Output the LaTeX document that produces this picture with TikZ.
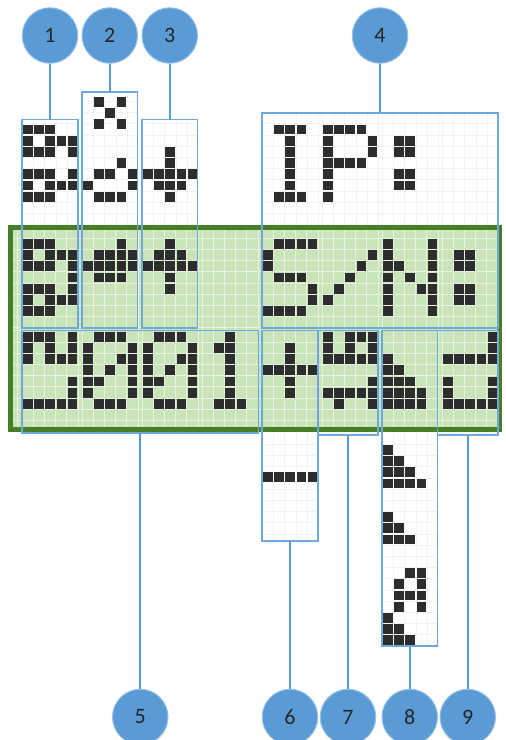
\documentclass[tikz,border=0pt]{standalone}
\usepackage{fontspec}
\newfontfamily\numfont{Carlito}
\definecolor{cblue}{RGB}{91,155,213}
\definecolor{cblueedge}{RGB}{150,192,232}
\definecolor{boxblue}{RGB}{110,168,222}
\definecolor{lcdgreen}{RGB}{200,228,184}
\definecolor{lcdborder}{RGB}{72,125,42}
\definecolor{lcdgrid}{RGB}{230,243,222}
\definecolor{dotc}{RGB}{45,45,45}
\definecolor{faint}{RGB}{243,243,243}

\newcommand\dotrow[2]{\def\dotX{#1}\expandafter\dotrowi#2\relax}
\def\dotrowi#1{\ifx#1\relax\else\if1#1\fill[dotc] (\dotX,\dotY) rectangle ++(9.8,9.8);\fi\pgfmathsetmacro\dotX{\dotX+11.1}\expandafter\dotrowi\fi}
\newcommand\glyph[3]{\foreach \gr [count=\gi from 0] in {#3} {\pgfmathsetmacro\dotY{#2+11.2*\gi}\dotrow{#1}{\gr}}}
\newcommand\lcdchar[3]{\pgfmathsetmacro\gxpos{23.2+60*#1}\glyph{\gxpos}{#2}{#3}}

\tikzset{
  boxfr/.style={draw=boxblue, line width=1.1pt, inner sep=0pt, outer sep=0pt},
  numc/.style={circle, fill=cblue, draw=cblueedge, line width=1pt, minimum size=55.5pt, inner sep=0pt, font=\numfont\fontsize{22}{22}\selectfont, text=black!85},
  conn/.style={draw=cblue, line width=1.8pt},
  lcdbox/.style={draw=lcdborder, fill=lcdgreen, line width=5pt, inner sep=0pt, outer sep=0pt},
  gridl/.style={draw=lcdgrid, line width=0.9pt},
  faintl/.style={draw=faint, line width=0.6pt}
}

\begin{document}
\begin{tikzpicture}[x=1pt,y=-1pt]
\useasboundingbox (0,0) rectangle (506,740);
\fill[white] (0,0) rectangle (506,740);

% faint grids in the white parts of the boxes
\begin{scope}
\clip (22,119.5) rectangle (78,225) (82,92) rectangle (137.5,225) (142,119.5) rectangle (197.5,225)
      (262,113) rectangle (498,225) (262,432) rectangle (318,541) (382,432) rectangle (437.5,646);
\foreach \c in {0,...,7} \foreach \k in {0,...,5} \draw[faintl] ({22.5+60*\c+11.1*\k},90) -- (22.5+60*\c+11.1*\k,650);
\foreach \r in {-4,...,9} \draw[faintl] (20,{123.7+11.2*\r}) -- (500,123.7+11.2*\r);
\foreach \r in {0,...,19} \draw[faintl] (20,{444.2+11.2*\r}) -- (500,444.2+11.2*\r);
\end{scope}

% LCD
\node[lcdbox, minimum width=489pt, minimum height=202pt] (lcd) at (255,328.5) {};
\begin{scope}
\clip (13,230) rectangle (497,427);
\foreach \c in {0,...,7} \foreach \k in {0,...,5} \draw[gridl] ({22.5+60*\c+11.1*\k},230) -- (22.5+60*\c+11.1*\k,427);
\draw[gridl] (17.5,230) -- (17.5,427);
\foreach \r in {-1,...,8} \draw[gridl] (13,{238.2+11.2*\r}) -- (497,238.2+11.2*\r);
\foreach \r in {0,...,9} \draw[gridl] (13,{330.9+11.2*\r}) -- (497,330.9+11.2*\r);
\end{scope}

% LCD row 1
\lcdchar{0}{239}{11100,10111,11101,00001,11101,10111,11100}
\lcdchar{1}{239}{00010,01111,11111,01110}
\lcdchar{2}{239}{00100,01110,11111,00100,00100}
\lcdchar{4}{239}{01111,10000,10000,01110,00001,00001,11110}
\lcdchar{5}{239}{00000,00001,00010,00100,01000,10000}
\lcdchar{6}{239}{10001,10001,11001,10101,10011,10001,10001}
\lcdchar{7}{239}{00000,01100,01100,00000,01100,01100}
% LCD row 2
\lcdchar{0}{331.7}{11101,10101,10111,00000,00001,00001,11111}
\lcdchar{1}{331.7}{01110,10001,10011,10101,11001,10001,01110}
\lcdchar{2}{331.7}{01110,10001,10011,10101,11001,10001,01110}
\lcdchar{3}{331.7}{00100,01100,00100,00100,00100,00100,01110}
\lcdchar{4}{331.7}{00000,00100,00100,11111,00100,00100}
\lcdchar{5}{331.7}{10111,10101,11111,00000,00001,11111,01001}
\lcdchar{6}{331.7}{00000,00000,10000,11000,11100,11110,11110}
\lcdchar{7}{331.7}{00001,00001,11111,00000,10001,10001,11111}

% alternative glyphs above the LCD
\lcdchar{0}{124.5}{11100,10111,11101,00000,11101,10111,11100}
\lcdchar{1}{96.7}{01010,00100,01010}
\lcdchar{1}{124.5}{00000,00000,00000,00010,01101,10001,01110}
\lcdchar{2}{124.5}{00000,00000,00100,00100,11111,01110,00100}
\lcdchar{4}{124.5}{01110,00100,00100,00100,00100,00100,01110}
\lcdchar{5}{124.5}{11110,10001,10001,11110,10000,10000,10000}
\lcdchar{6}{124.5}{00000,01100,01100,00000,01100,01100}
% alternative glyphs below the LCD
\lcdchar{4}{472}{11111}
\lcdchar{6}{445}{10000,11000,11100,11110,00000,00000,10000,11000,11100,00000,00000,00110,01010,01110,01010,10000,11000,11100}

% callout frames
\node[boxfr, minimum width=56pt,   minimum height=208.5pt] (b1) at (50,223.75) {};
\node[boxfr, minimum width=55.5pt, minimum height=236pt]   (b2) at (109.75,210) {};
\node[boxfr, minimum width=55.5pt, minimum height=208.5pt] (b3) at (169.75,223.75) {};
\node[boxfr, minimum width=236pt,  minimum height=215pt]   (b4) at (380,220.5) {};
\node[boxfr, minimum width=236.5pt,minimum height=102.5pt] (b5) at (140.25,381.75) {};
\node[boxfr, minimum width=56pt,   minimum height=210.5pt] (b6) at (290,435.75) {};
\node[boxfr, minimum width=60pt,   minimum height=104.5pt] (b7) at (348,382.75) {};
\node[boxfr, minimum width=55.5pt, minimum height=315.5pt] (b8) at (409.75,488.25) {};
\node[boxfr, minimum width=60.5pt, minimum height=104.5pt] (b9) at (467.75,382.75) {};

% numbered circles
\node[numc] (c1) at (50,35.5) {1};
\node[numc] (c2) at (109.75,35.5) {2};
\node[numc] (c3) at (169.75,35.5) {3};
\node[numc] (c4) at (380,35.5) {4};
\node[numc] (c5) at (140.25,717) {5};
\node[numc] (c6) at (290,717) {6};
\node[numc] (c7) at (348,717) {7};
\node[numc] (c8) at (409.75,717) {8};
\node[numc] (c9) at (467.75,717) {9};

\draw[conn] (c1) -- (b1);
\draw[conn] (c2) -- (b2);
\draw[conn] (c3) -- (b3);
\draw[conn] (c4) -- (b4);
\draw[conn] (b5) -- (c5);
\draw[conn] (b6) -- (c6);
\draw[conn] (b7) -- (c7);
\draw[conn] (b8) -- (c8);
\draw[conn] (b9) -- (c9);
\end{tikzpicture}
\end{document}
